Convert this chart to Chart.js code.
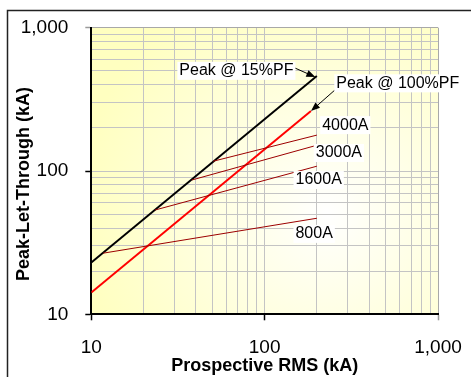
<!DOCTYPE html>
<html>
<head>
<meta charset="utf-8">
<script src="https://cdn.jsdelivr.net/npm/chart.js@4.4.1/dist/chart.umd.min.js"></script>
<style>
  html, body { margin: 0; padding: 0; background: #fff; }
  #wrap { width: 471px; height: 377px; }
</style>
</head>
<body>
<div id="wrap"><canvas id="peakChart" width="471" height="377"></canvas></div>
<script>
// Valeurs (kA)
const pf15Rms = [10, 200];
const pf15Peak = [23, 460];
const pf100Rms = [10, 185];
const pf100Peak = [14.2, 262];
const fuse4000Rms = [50.5, 200];
const fuse4000Peak = [117, 178];
const fuse3000Rms = [38, 195];
const fuse3000Peak = [86.5, 150];
const fuse1600Rms = [23.3, 200];
const fuse1600Peak = [53.4, 108];
const fuse800Rms = [11.7, 200];
const fuse800Peak = [26.7, 46.8];

// Graduations (log)
const gridValues = [10, 20, 30, 40, 50, 60, 70, 80, 90, 100, 200, 300, 400, 500, 600, 700, 800, 900, 1000];
const tickLabels = [10, 100, 1000];

const toPoints = (xs, ys) => xs.map((x, i) => ({ x: x, y: ys[i] }));

// Libellés (positions en kA sur les axes)
const notes = [
    { text: 'Peak @ 15%PF', x: 68.7, y: 500, arrowFrom: [145, 532], arrowTo: [196, 452] },
    { text: 'Peak @ 100%PF', x: 586, y: 409, arrowFrom: [254, 367], arrowTo: [185, 262] },
    { text: '4000A', x: 292, y: 209 },
    { text: '3000A', x: 268, y: 133.6 },
    { text: '1600A', x: 205, y: 86.5 },
    { text: '800A', x: 193, y: 36.4 }
];

const fixedTicks = (scale) => {
    scale.ticks = gridValues.map(v => ({ value: v, major: tickLabels.includes(v) }));
};

const tickColor = (c) => {
    if (!c.tick || !tickLabels.includes(c.tick.value)) return 'rgba(0,0,0,0)';
    return c.tick.value === 1000 ? '#9a9a9a' : '#000';
};

const gridColor = (c) => (c.tick && c.tick.value === 1000 ? '#a8a8a8' : '#c4c4c4');

const decor = {
    id: 'decor',
    beforeDraw(chart) {
        const { ctx, chartArea: a } = chart;
        ctx.save();
        ctx.fillStyle = '#fff';
        ctx.fillRect(0, 0, chart.width, chart.height);
        ctx.strokeStyle = '#222';
        ctx.lineWidth = 1.5;
        ctx.strokeRect(7.5, 10.5, chart.width, chart.height);
        // fond dégradé
        const cx = a.left + a.width * 0.68, cy = a.top + a.height * 0.65;
        const g = ctx.createRadialGradient(cx, cy, 0, cx, cy, 250);
        g.addColorStop(0, '#ffffff');
        g.addColorStop(0.15, '#fffff4');
        g.addColorStop(1, '#ffffc0');
        ctx.fillStyle = g;
        ctx.fillRect(a.left, a.top, a.width, a.height);
        ctx.restore();
    },
    afterDatasetsDraw(chart) {
        const { ctx } = chart;
        const xs = chart.scales.x, ys = chart.scales.y;
        ctx.save();
        // flèches
        notes.filter(n => n.arrowFrom).forEach(n => {
            const x1 = xs.getPixelForValue(n.arrowFrom[0]), y1 = ys.getPixelForValue(n.arrowFrom[1]);
            const x2 = xs.getPixelForValue(n.arrowTo[0]), y2 = ys.getPixelForValue(n.arrowTo[1]);
            const ang = Math.atan2(y2 - y1, x2 - x1);
            ctx.strokeStyle = '#000';
            ctx.fillStyle = '#000';
            ctx.lineWidth = 1;
            ctx.beginPath();
            ctx.moveTo(x1, y1);
            ctx.lineTo(x2 - 6 * Math.cos(ang), y2 - 6 * Math.sin(ang));
            ctx.stroke();
            ctx.beginPath();
            ctx.moveTo(x2, y2);
            ctx.lineTo(x2 - 9 * Math.cos(ang) + 3.5 * Math.sin(ang), y2 - 9 * Math.sin(ang) - 3.5 * Math.cos(ang));
            ctx.lineTo(x2 - 9 * Math.cos(ang) - 3.5 * Math.sin(ang), y2 - 9 * Math.sin(ang) + 3.5 * Math.cos(ang));
            ctx.closePath();
            ctx.fill();
        });
        // textes sur fond blanc
        ctx.font = '16px "Liberation Sans", Arial, sans-serif';
        ctx.textAlign = 'center';
        ctx.textBaseline = 'middle';
        notes.forEach(n => {
            const px = xs.getPixelForValue(n.x), py = ys.getPixelForValue(n.y);
            const w = ctx.measureText(n.text).width;
            ctx.fillStyle = '#fff';
            ctx.fillRect(px - w / 2 - 2, py - 9, w + 4, 18);
            ctx.fillStyle = '#000';
            ctx.fillText(n.text, px, py);
        });
        ctx.restore();
    },
    afterDraw(chart) {
        const { ctx } = chart;
        ctx.save();
        ctx.translate(24, 184);
        ctx.rotate(-Math.PI / 2);
        ctx.font = 'bold 18px "Liberation Sans", Arial, sans-serif';
        ctx.fillStyle = '#000';
        ctx.textAlign = 'center';
        ctx.textBaseline = 'middle';
        ctx.fillText('Peak-Let-Through (kA)', 0, 0);
        ctx.restore();
    }
};

const lineSet = (label, xs, ys, color, width) => ({
    label: label,
    data: toPoints(xs, ys),
    borderColor: color,
    borderWidth: width,
    pointRadius: 0,
    fill: false,
    tension: 0
});

document.addEventListener('DOMContentLoaded', function () {
    const ctx = document.getElementById('peakChart').getContext('2d');
    new Chart(ctx, {
        type: 'line',
        data: {
            datasets: [
                lineSet('800A', fuse800Rms, fuse800Peak, '#9c0000', 1),
                lineSet('1600A', fuse1600Rms, fuse1600Peak, '#9c0000', 1),
                lineSet('3000A', fuse3000Rms, fuse3000Peak, '#9c0000', 1),
                lineSet('4000A', fuse4000Rms, fuse4000Peak, '#9c0000', 1),
                lineSet('Peak @ 100%PF', pf100Rms, pf100Peak, '#ff0000', 2),
                lineSet('Peak @ 15%PF', pf15Rms, pf15Peak, '#000000', 2)
            ]
        },
        options: {
            responsive: false,
            animation: false,
            devicePixelRatio: 1,
            layout: { padding: { left: 0, top: 27.7, right: 33, bottom: 0 } },
            plugins: { legend: { display: false }, tooltip: { enabled: false } },
            scales: {
                x: {
                    type: 'logarithmic',
                    min: 10,
                    max: 1000,
                    afterBuildTicks: fixedTicks,
                    afterFit: (s) => { s.height = 62.7; s.paddingLeft = 0; s.paddingRight = 0; },
                    border: { color: '#000', width: 2 },
                    grid: { color: gridColor, lineWidth: 1, tickLength: 6, tickColor: tickColor, tickWidth: 1.5 },
                    ticks: {
                        autoSkip: false,
                        maxRotation: 0,
                        padding: 16,
                        color: '#000',
                        font: { family: '"Liberation Sans", Arial, sans-serif', size: 19 },
                        callback: (v) => tickLabels.includes(v) ? v.toLocaleString('en-US') : ''
                    },
                    title: {
                        display: true,
                        text: 'Prospective RMS (kA)',
                        color: '#000',
                        padding: { top: 0, bottom: 0 },
                        font: { family: '"Liberation Sans", Arial, sans-serif', size: 18, weight: 'bold' }
                    }
                },
                y: {
                    type: 'logarithmic',
                    min: 10,
                    max: 1000,
                    afterBuildTicks: fixedTicks,
                    afterFit: (s) => { s.width = 91.3; s.paddingTop = 0; s.paddingBottom = 0; },
                    border: { color: '#000', width: 2 },
                    grid: { color: gridColor, lineWidth: 1, tickLength: 6, tickColor: tickColor, tickWidth: 1.5 },
                    ticks: {
                        autoSkip: false,
                        padding: 17,
                        color: '#000',
                        font: { family: '"Liberation Sans", Arial, sans-serif', size: 19 },
                        callback: (v) => tickLabels.includes(v) ? v.toLocaleString('en-US') : ''
                    }
                }
            }
        },
        plugins: [decor]
    });
});
</script>
</body>
</html>
